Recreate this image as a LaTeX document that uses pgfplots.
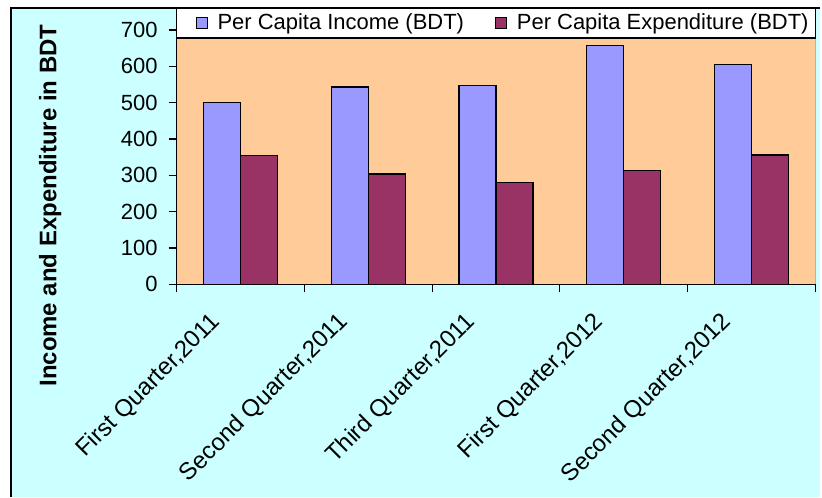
\documentclass[border=0pt]{standalone}
\usepackage{fontspec}
\setmainfont{Liberation Sans}
\usepackage{pgfplots}
\pgfplotsset{compat=1.18}

\definecolor{bgcyan}{RGB}{204,255,255}
\definecolor{plotorange}{RGB}{255,204,153}
\definecolor{incomeblue}{RGB}{153,153,255}
\definecolor{expwine}{RGB}{153,51,102}

\pgfplotsset{/pgfplots/ybar legend/.style={
    /pgfplots/legend image code/.code={%
        \draw[##1, line width=0.5pt] (0pt,-2.75pt) rectangle (5.5pt,2.75pt);}}}

\begin{document}
\begin{tikzpicture}
% chart area
\fill[white] (-88.5pt,-106.5pt) rectangle (322.5pt,142.5pt);
\fill[bgcyan] (-83pt,-106.5pt) rectangle (322.5pt,138.5pt);
\draw[black, line width=0.9pt] (-83pt,-106.5pt) -- (-83pt,138.5pt) -- (322.5pt,138.5pt);
\begin{axis}[
    scale only axis,
    width=320pt, height=127.5pt,
    ybar=0pt, bar width=18.5pt,
    xmin=-0.5, xmax=4.5,
    ymin=0, ymax=700,
    ytick={0,100,...,700},
    xtick={-0.5,0.5,...,4.5},
    xticklabels={},
    extra x ticks={0,1,2,3,4},
    extra x tick labels={{First Quarter,2011}, {Second Quarter,2011}, {Third Quarter,2011}, {First Quarter,2012}, {Second Quarter,2012}},
    extra x tick style={major tick length=0pt,
        xticklabel style={font=\fontsize{12}{14}\selectfont,
            xshift=-16pt, yshift=-8pt, rotate=45, anchor=north east}},
    axis x line*=bottom, axis y line*=left,
    axis line style={black, line width=0.6pt},
    tick style={black, line width=0.6pt},
    tick align=outside, major tick length=4pt,
    axis background/.style={fill=plotorange},
    clip=false,
    /pgf/number format/assume math mode=true,
    tick label style={font=\fontsize{11}{13}\selectfont},
    yticklabel style={xshift=-2pt},
    ylabel={Income and Expenditure in BDT},
    ylabel style={font=\fontsize{12}{14}\selectfont\bfseries,
        at={(axis description cs:-0.198,0.31)}, anchor=center},
    legend columns=2,
    legend style={draw=none, fill=none, inner sep=0pt, outer sep=0pt,
        at={(axis description cs:0.0297,1.0275)}, anchor=west,
        font=\fontsize{11}{13}\selectfont,
        /tikz/every odd column/.append style={column sep=3pt},
        /tikz/every even column/.append style={column sep=13.5pt}},
]
\addplot[fill=incomeblue, draw=black, line width=0.6pt] coordinates {
    (0,500) (1,543) (2,548) (3,657) (4,605)};
\addlegendentry{Per Capita Income (BDT)}
\addplot[fill=expwine, draw=black, line width=0.6pt] coordinates {
    (0,355) (1,304) (2,280) (3,313) (4,356)};
\addlegendentry{Per Capita Expenditure (BDT)}
\draw[gray!60, line width=0.5pt] (rel axis cs:1,0) -- (rel axis cs:1,1);
\draw[black, fill=white, line width=0.6pt] (axis description cs:0,0.9686) rectangle (axis description cs:1,1.0863);
\end{axis}
\end{tikzpicture}
\end{document}
